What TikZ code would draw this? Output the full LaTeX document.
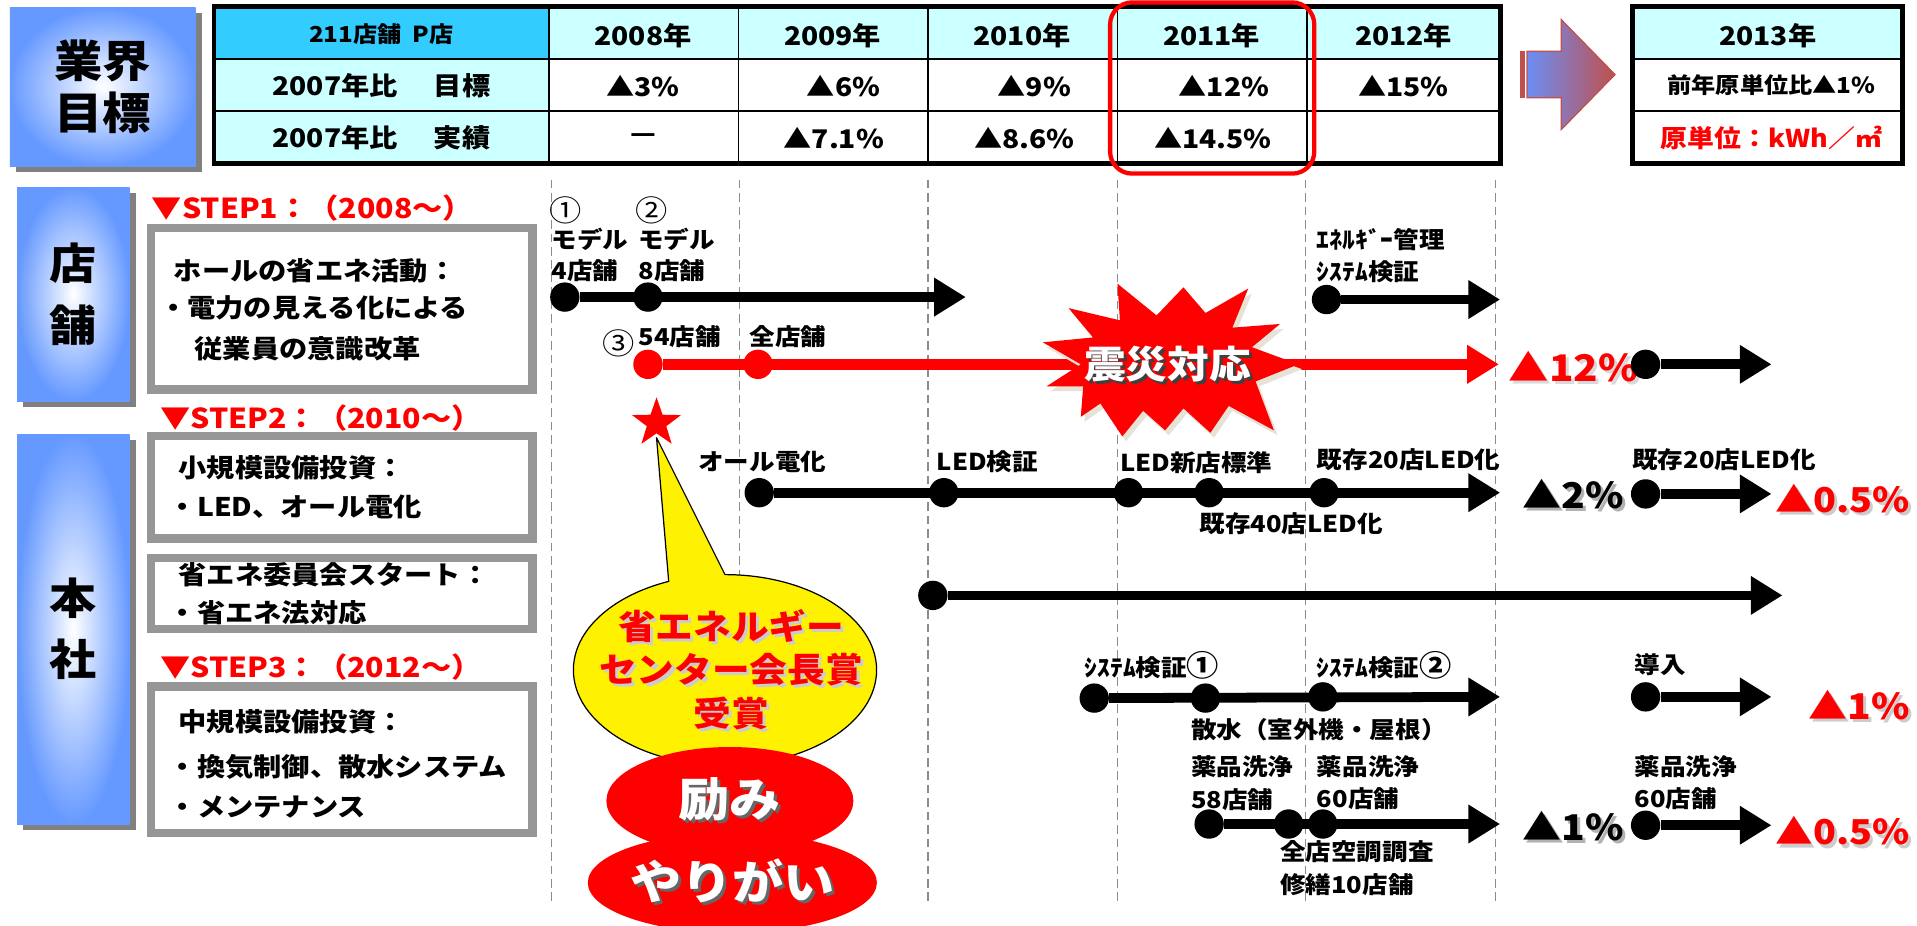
\documentclass[tikz,border=0pt]{standalone}
\usepackage{fontspec}
\setmainfont{Noto Sans CJK JP}[FakeStretch=1.1]
\usetikzlibrary{arrows.meta,shapes.geometric,shapes.symbols,shadows}
\definecolor{hdrcyan}{HTML}{33CCFF}
\definecolor{lcyan}{HTML}{CCFFFF}
\definecolor{boxblue}{HTML}{6699FF}
\definecolor{boxgray}{HTML}{969696}
\definecolor{shgray}{HTML}{808080}
\definecolor{dashgray}{HTML}{8C8C8C}
\definecolor{arrred}{HTML}{C0504D}
\definecolor{arrblue}{HTML}{6B8EF5}
\definecolor{burstsh}{HTML}{E6E2D6}
\newcommand\fsz[1]{\fontsize{#1}{#1}\selectfont}
\newcommand\shtxt[3]{\leavevmode\rlap{\kern2.5pt\raisebox{-2.5pt}{\textcolor{#1}{#3}}}\textcolor{#2}{#3}}
\newcommand\burstpts{(853,280) -- (894,276) -- (874,252) -- (916,262) -- (914,232) -- (946,258)
  -- (968,235) -- (986,256) -- (1021,236) -- (1008,268) -- (1047,265) -- (1024,284) -- (1062,298)
  -- (1027,312) -- (1042,352) -- (1005,332) -- (990,354) -- (968,334) -- (953,352) -- (935,336)
  -- (918,357) -- (900,330) -- (884,341) -- (886,316) -- (856,316) -- (884,298) -- cycle}
\pgfdeclarelayer{bg}
\pgfsetlayers{bg,main}
\begin{document}
\begin{tikzpicture}[x=1pt,y=-1pt,
  every node/.style={inner sep=0pt},
  dot/.style={circle,fill=black,minimum size=24pt,inner sep=0pt},
  rdot/.style={dot,fill=red},
  tl/.style={line width=8pt,-{Triangle[width=30pt,length=26pt]}},
  rtl/.style={tl,draw=red,fill=red,line width=9pt},
  lbl/.style={anchor=west,font=\bfseries\fsz{19}},
  circnum/.style={anchor=west,font=\fsz{24}},
  btx/.style={anchor=west,font=\bfseries\fsz{21}},
  stp/.style={anchor=west,font=\bfseries\fsz{22.5},text=red},
  tcell/.style={font=\bfseries\fsz{21}},
  pct/.style={anchor=west,font=\bfseries\fsz{29}},
  bluebox/.style={rectangle,inner color=white,outer color=boxblue,
     drop shadow={shadow xshift=5pt,shadow yshift=-5pt,fill=shgray,opacity=1},align=center},
  graybox/.style={draw=boxgray,line width=7pt,fill=white},
  vdash/.style={draw=dashgray,line width=1pt,dash pattern=on 7pt off 4pt}
]
\useasboundingbox (0,0) rectangle (1568,757);

% ---------- dashed year lines ----------
\begin{pgfonlayer}{bg}
\foreach \x in {451,605,759,914,1068,1223} \draw[vdash] (\x,147) -- (\x,738);
\end{pgfonlayer}

% ---------- top-left box ----------
\node[bluebox,minimum width=152pt,minimum height=130pt,font=\bfseries\fontsize{36}{42}\selectfont] (gyokai) at (84,71) {業界\\目標};

% ---------- table ----------
\fill[hdrcyan] (175,5) rectangle (449,48);
\fill[lcyan] (449,5) rectangle (1227,48);
\fill[lcyan] (175,48) rectangle (449,134);
\fill[white] (449,48) rectangle (1227,134);
\foreach \x in {449,604,759,914,1069} \draw[line width=1.5pt] (\x,5) -- (\x,134);
\foreach \y in {48,91} \draw[line width=1.5pt] (175,\y) -- (1227,\y);
\draw[line width=4pt] (175,5) rectangle (1227,134);
\node[font=\bfseries\fsz{18}] (h0) at (312,28) {211店舗\ \ P店};
\node[tcell] (h1) at (526,29) {2008年};
\node[tcell] (h2) at (681,29) {2009年};
\node[tcell] (h3) at (836,29) {2010年};
\node[tcell] (h4) at (991,29) {2011年};
\node[tcell] (h5) at (1148,29) {2012年};
\node[tcell] (rl1) at (312,70) {2007年比\hspace{1.4em}目標};
\node[tcell] (rl2) at (312,113) {2007年比\hspace{1.4em}実績};
\node[tcell] (g1) at (526,70) {▲3\%};
\node[tcell] (g2) at (690,70) {▲6\%};
\node[tcell] (g3) at (846,70) {▲9\%};
\node[tcell] (g4) at (1001,70) {▲12\%};
\node[tcell] (g5) at (1148,70) {▲15\%};
\node[tcell] (p1) at (526,113) {—};
\node[tcell] (p2) at (682,113) {▲7.1\%};
\node[tcell] (p3) at (838,113) {▲8.6\%};
\node[tcell] (p4) at (992,113) {▲14.5\%};
\draw[red,line width=3.5pt,rounded corners=18pt] (908,2) rectangle (1075,142);

% ---------- arrow to 2013 ----------
\fill[arrred] (1243,42) rectangle (1247,80);
\shadedraw[left color=arrblue,right color=arrred,draw=arrred,line width=1pt]
  (1249,42) -- (1277,42) -- (1277,16) -- (1321,61) -- (1277,106) -- (1277,80) -- (1249,80) -- cycle;

% ---------- 2013 box ----------
\fill[lcyan] (1335,5) rectangle (1556,48);
\fill[white] (1335,48) rectangle (1556,134);
\draw[line width=1.5pt] (1335,48) -- (1556,48);
\draw[line width=1.5pt] (1335,91) -- (1556,91);
\draw[line width=4pt] (1335,5) rectangle (1556,134);
\node[tcell] (y0) at (1446,29) {2013年};
\node[font=\bfseries\fsz{18}] (y1) at (1449,70) {前年原単位比▲1\%};
\node[font=\bfseries\fsz{20},text=red] (y2) at (1449,113) {原単位：kWh／㎡};

% ---------- left side ----------
\node[bluebox,minimum width=92pt,minimum height=175pt,font=\bfseries\fontsize{35}{51}\selectfont] (tenpo) at (60,240.5) {店\\舗};
\node[bluebox,minimum width=92pt,minimum height=319pt,font=\bfseries\fontsize{35}{50}\selectfont] (honsha) at (60,514.5) {本\\社};

\node[stp] (st1) at (124,170) {▼STEP1：（2008～）};
\node[stp] (st2) at (131,342) {▼STEP2：（2010～）};
\node[stp] (st3) at (131,546) {▼STEP3：（2012～）};

\draw[graybox] (123.5,186.5) rectangle (435.5,318.5);
\draw[graybox] (123.5,356.5) rectangle (435.5,440.5);
\draw[graybox] (123.5,456.5) rectangle (435.5,514.5);
\draw[graybox] (123.5,561.5) rectangle (435.5,681.5);

\node[btx] (b1a) at (142,221.5) {ホールの省エネ活動：};
\node[btx] (b1b) at (130,252) {・電力の見える化による};
\node[btx] (b1c) at (159,285) {従業員の意識改革};
\node[btx] (b2a) at (146,383) {小規模設備投資：};
\node[btx] (b2b) at (138,415) {・LED、オール電化};
\node[btx] (b3a) at (146,470) {省エネ委員会スタート：};
\node[btx] (b3b) at (138,501) {・省エネ法対応};
\node[btx] (b4a) at (146,590) {中規模設備投資：};
\node[btx] (b4b) at (138,627) {・換気制御、散水システム};
\node[btx] (b4c) at (138,660) {・メンテナンス};

% ---------- STEP1 row (black) ----------
\node[circnum] (la1) at (449,172) {①};
\node[lbl] (la2) at (451,196) {モデル};
\node[lbl] (la3) at (451,221) {4店舗};
\node[circnum] (lb1) at (520,172) {②};
\node[lbl] (lb2) at (522,196) {モデル};
\node[lbl] (lb3) at (522,221) {8店舗};
\node[dot] (a1) at (462,243) {};
\node[dot] (a2) at (530,243) {};
\coordinate (ae) at (790,243);
\draw[tl] (a1) -- (ae);
\node[lbl] (lc1) at (1077,196) {ｴﾈﾙｷﾞｰ管理};
\node[lbl] (lc2) at (1077,222) {ｼｽﾃﾑ検証};
\node[dot] (a3) at (1085,245) {};
\coordinate (a3e) at (1227,245);
\draw[tl] (a3) -- (a3e);

% ---------- red row ----------
\node[circnum] (lr0) at (493,281) {③};
\node[lbl] (lr1) at (522,275) {54店舗};
\node[lbl] (lr2) at (613,275) {全店舗};
\node[rdot] (r1) at (530,298) {};
\node[rdot] (r2) at (620,298) {};
\coordinate (re) at (1226,298);
\draw[rtl] (r1) -- (re);
\begin{scope}[shift={(3,4)}]
\fill[burstsh] \burstpts;
\end{scope}
\fill[red] \burstpts;
\node[font=\bfseries\fsz{31}] (quake) at (955,299) {\shtxt{black!75}{white}{震災対応}};
\node[pct,font=\bfseries\fsz{30}] (pc12) at (1234,301) {\shtxt{black!15}{red}{▲12\%}};
\node[dot] (a4) at (1346,298) {};
\coordinate (a4e) at (1449,298);
\draw[tl] (a4) -- (a4e);

% ---------- STEP2 row ----------
\node[lbl] (ll1) at (571,378) {オール電化};
\node[lbl] (ll2) at (766,378) {LED検証};
\node[lbl] (ll3) at (916,378) {LED新店標準};
\node[lbl] (ll4) at (1077,376) {既存20店LED化};
\node[lbl] (ll5) at (981,428) {既存40店LED化};
\node[lbl] (ll6) at (1335,376) {既存20店LED化};
\node[dot] (l1) at (621,403) {};
\node[dot] (l2) at (772,403) {};
\node[dot] (l3) at (923,403) {};
\node[dot] (l4) at (989,403) {};
\node[dot] (l5) at (1083,403) {};
\coordinate (le) at (1227,403);
\draw[tl] (l1) -- (le);
\node[pct] (pc2) at (1245,405) {\shtxt{black!30}{black}{▲2\%}};
\node[dot] (l6) at (1346,404) {};
\coordinate (l6e) at (1449,404);
\draw[tl] (l6) -- (l6e);
\node[pct,font=\bfseries\fsz{28}] (pc05a) at (1452,409) {\shtxt{black!20}{red}{▲0.5\%}};

% ---------- committee row ----------
\node[dot] (c1) at (763,487) {};
\coordinate (ce) at (1458,487);
\draw[tl] (c1) -- (ce);

% ---------- STEP3 rows ----------
\node[lbl] (ls1) at (887,544) {ｼｽﾃﾑ検証{\fsz{24}①}};
\node[lbl] (ls2) at (1077,544) {ｼｽﾃﾑ検証{\fsz{24}②}};
\node[lbl] (ls3) at (974,597) {散水（室外機・屋根）};
\node[lbl] (ls4) at (1337,544) {導入};
\node[dot] (s1) at (895,571) {};
\node[dot] (s2) at (986,571) {};
\node[dot] (s3) at (1082,570) {};
\coordinate (se) at (1227,570);
\draw[tl] (s1) -- (se);
\node[dot] (s4) at (1346,570) {};
\coordinate (s4e) at (1449,570);
\draw[tl] (s4) -- (s4e);
\node[pct] (pc1r) at (1479,578) {\shtxt{black!20}{red}{▲1\%}};

\node[lbl] (ly1) at (974,627) {薬品洗浄};
\node[lbl] (ly2) at (974,654) {58店舗};
\node[lbl] (ly3) at (1077,627) {薬品洗浄};
\node[lbl] (ly4) at (1077,653) {60店舗};
\node[lbl] (ly5) at (1047,697) {全店空調調査};
\node[lbl] (ly6) at (1047,724) {修繕10店舗};
\node[lbl] (ly7) at (1337,627) {薬品洗浄};
\node[lbl] (ly8) at (1337,653) {60店舗};
\node[dot] (y1d) at (989,674) {};
\node[dot] (y2d) at (1054,674) {};
\node[dot] (y3d) at (1082,674) {};
\coordinate (ye) at (1227,674);
\draw[tl] (y1d) -- (ye);
\node[pct] (pc1b) at (1245,677) {\shtxt{black!30}{black}{▲1\%}};
\node[dot] (y4d) at (1346,675) {};
\coordinate (y4e) at (1449,675);
\draw[tl] (y4d) -- (y4e);
\node[pct,font=\bfseries\fsz{28}] (pc05b) at (1452,681) {\shtxt{black!20}{red}{▲0.5\%}};

% ---------- callout ----------
\node[ellipse,fill=yellow,draw=black,line width=1pt,minimum width=248pt,minimum height=156pt] (callout) at (593,548) {};
\coordinate (tip) at (537,358);
\coordinate (tailL) at (547,476);
\coordinate (tailR) at (593,470);
\fill[yellow] (tip) -- (tailL) -- (549,486) -- (591,486) -- (tailR) -- cycle;
\draw[line width=1pt,line join=round] (tailL) -- (tip) -- (tailR);
\node[star,star points=5,star point ratio=2.5,fill=red,minimum size=42pt] (prize) at (537,346) {};
\node[font=\bfseries\fsz{28}] (cl1) at (598,513) {\shtxt{black!20}{red}{省エネルギー}};
\node[font=\bfseries\fsz{28}] (cl2) at (598,549) {\shtxt{black!20}{red}{センター会長賞}};
\node[font=\bfseries\fsz{28}] (cl3) at (598,585) {\shtxt{black!20}{red}{受賞}};

\node[ellipse,fill=red,minimum width=202pt,minimum height=88pt,font=\bfseries\fsz{38}] (hagemi) at (597,655) {\shtxt{black!60}{white}{励み}};
\node[ellipse,fill=red,minimum width=202pt,minimum height=82pt,font=\bfseries\fsz{38}] (yarigai) at (599,722) {\shtxt{black!60}{white}{やりがい}};
\end{tikzpicture}
\end{document}
